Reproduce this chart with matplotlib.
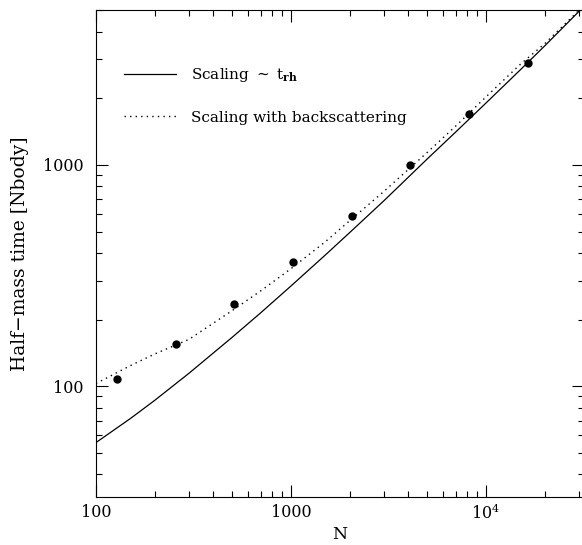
import matplotlib
matplotlib.use('Agg')
import matplotlib.pyplot as plt
from matplotlib.ticker import LogLocator, NullFormatter

# measured half-mass times (N-body units)
n_sim = [128, 256, 512, 1024, 2048, 4096, 8192, 16384]
t_sim = [108, 156, 235, 364, 585, 1000, 1705, 2900]

# curves
n_curve = [100, 150, 200, 300, 500, 700, 1000, 1500, 2000, 3000,
           5000, 7000, 10000, 15000, 20000, 31623]
t_rh = [55.7, 71.5, 86.4, 114.6, 166.7, 215, 284, 392, 495, 690,
        1065, 1410, 1905, 2690, 3450, 5180]
t_back = [103, 124, 140, 163, 220, 270, 340, 450, 560, 760,
          1140, 1500, 2030, 2850, 3530, 5230]

plt.rcParams['font.family'] = 'DejaVu Serif'
plt.rcParams['mathtext.fontset'] = 'dejavuserif'

fig = plt.figure(figsize=(5.82, 5.45), dpi=100)
ax = fig.add_axes([96/582, 48/545, 487.5/582, 487/545])

ax.plot(n_curve, t_rh, color='black', lw=0.9, label=r'Scaling $\sim$ t$_{\mathbf{rh}}$')
ax.plot(n_curve, t_back, color='black', lw=1.0, linestyle=(0, (1, 3.0)),
        label='Scaling with backscattering')
ax.plot(n_sim, t_sim, 'o', color='black', ms=5)

ax.set_xscale('log')
ax.set_yscale('log')
ax.set_xlim(100, 10**4.5)
ax.set_ylim(10**1.5, 10**3.7)

ax.set_xticks([100, 1000, 10000], labels=['100', '1000', r'$10^4$'])
ax.set_yticks([100, 1000], labels=['100', '1000'])
ax.xaxis.set_minor_locator(LogLocator(base=10, subs=range(2, 10)))
ax.yaxis.set_minor_locator(LogLocator(base=10, subs=range(2, 10)))
ax.xaxis.set_minor_formatter(NullFormatter())
ax.yaxis.set_minor_formatter(NullFormatter())

ax.tick_params(which='both', direction='in', top=True, right=True, width=0.8)
ax.tick_params(which='major', length=8.5, labelsize=11.5)
ax.tick_params(which='minor', length=4.2)
ax.tick_params(axis='x', which='major', pad=5)
ax.tick_params(axis='y', which='major', pad=9)

for s in ax.spines.values():
    s.set_linewidth(0.8)
ax.spines['right'].set_visible(False)

ax.set_xlabel('N', fontsize=12.5, labelpad=2)
ax.set_ylabel('Half\u2212mass time [Nbody]', fontsize=13.5, labelpad=10)

ax.legend(loc='upper left', bbox_to_anchor=(0.058, 0.885), frameon=False,
          fontsize=11, handlelength=3.4, handletextpad=1.0, labelspacing=1.75,
          borderpad=0, borderaxespad=0)

fig.savefig('out.png', dpi=100)
